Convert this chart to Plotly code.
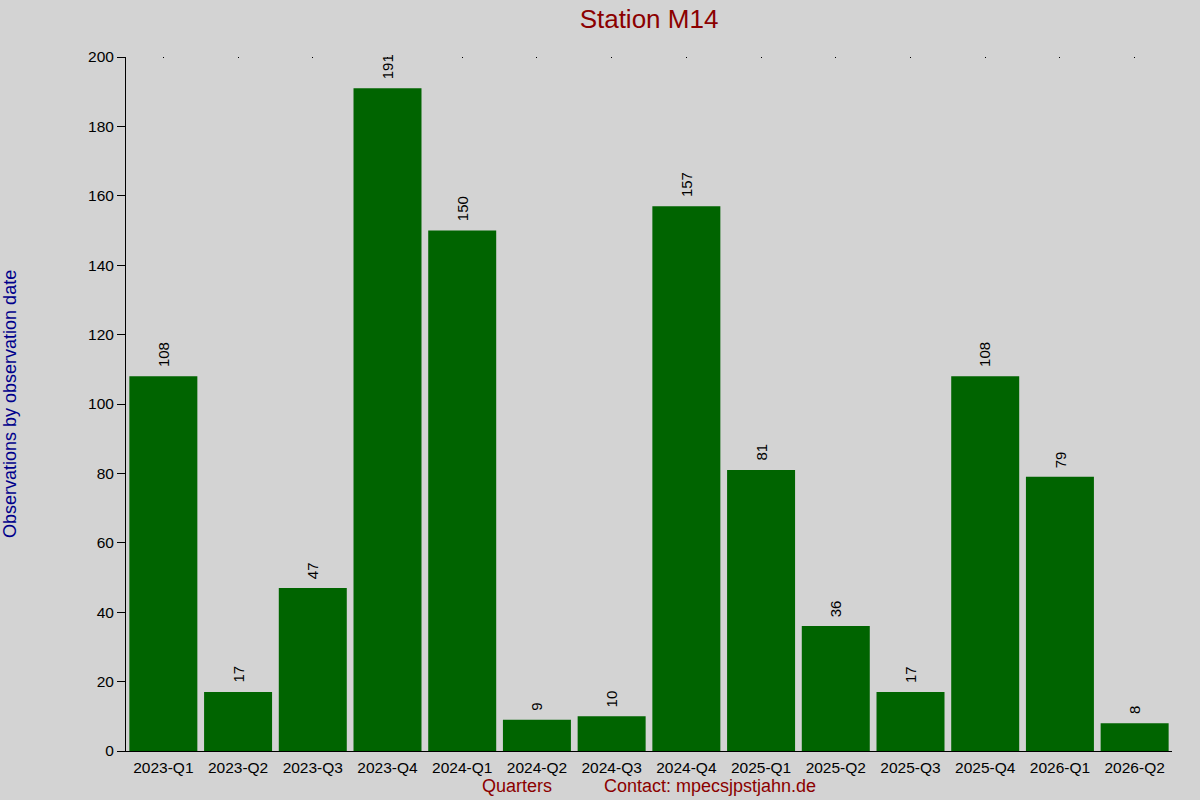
import plotly.graph_objects as go

quarters = ["2023-Q1", "2023-Q2", "2023-Q3", "2023-Q4", "2024-Q1", "2024-Q2", "2024-Q3",
            "2024-Q4", "2025-Q1", "2025-Q2", "2025-Q3", "2025-Q4", "2026-Q1", "2026-Q2"]
observations = [108, 17, 47, 191, 150, 9, 10, 157, 81, 36, 17, 108, 79, 8]
y_ticks = [0, 20, 40, 60, 80, 100, 120, 140, 160, 180, 200]

FONT = "Liberation Sans, Arial, sans-serif"
BG = "#D3D3D3"

fig = go.Figure()
fig.add_trace(go.Bar(
    x=quarters, y=observations,
    marker=dict(color="#006400", line=dict(width=0)),
    width=0.91,
    hoverinfo="x+y",
))
# invisible trace for top mirrored dot ticks
fig.add_trace(go.Scatter(
    x=quarters, y=observations, xaxis="x2", mode="markers",
    marker=dict(opacity=0), hoverinfo="skip", showlegend=False,
))

annotations = [
    dict(text=str(v), x=q, y=v, xref="x", yref="y",
         xanchor="center", yanchor="bottom", yshift=7, textangle=-90,
         showarrow=False, font=dict(family=FONT, size=15, color="black"))
    for q, v in zip(quarters, observations)
]
annotations += [
    dict(text="Observations by observation date", xref="paper", yref="paper",
         x=(10 - 126) / 1046, y=0.5, xanchor="center", yanchor="middle",
         textangle=-90, showarrow=False,
         font=dict(family=FONT, size=18, color="#00008B")),
    dict(text="Quarters", xref="paper", yref="paper",
         x=(517 - 126) / 1046, y=-(786 - 751) / 694, xanchor="center", yanchor="middle",
         showarrow=False, font=dict(family=FONT, size=18, color="#8B0000")),
    dict(text="Contact: mpecsjpstjahn.de", xref="paper", yref="paper",
         x=(710 - 126) / 1046, y=-(786 - 751) / 694, xanchor="center", yanchor="middle",
         showarrow=False, font=dict(family=FONT, size=18, color="#8B0000")),
]

fig.update_layout(
    width=1200, height=800,
    paper_bgcolor=BG, plot_bgcolor=BG,
    margin=dict(l=126, r=28, t=57, b=49),
    showlegend=False,
    title=dict(text="Station M14", x=(126 + 1172) / 2 / 1200, xanchor="center",
               y=1 - 19 / 800, yanchor="middle",
               font=dict(family=FONT, size=26, color="#8B0000")),
    xaxis=dict(
        type="category", range=[-0.5, 13.5],
        showline=True, linecolor="black", linewidth=1,
        ticks="", showgrid=False, zeroline=False,
        tickfont=dict(family=FONT, size=15.5, color="black"),
        ticklabelstandoff=2,
    ),
    xaxis2=dict(
        type="category", overlaying="x", side="top", anchor="y", matches="x",
        range=[-0.5, 13.5],
        showline=False, showgrid=False, zeroline=False, showticklabels=False,
        ticks="inside", ticklen=1, tickwidth=1, tickcolor="black",
    ),
    yaxis=dict(
        range=[0, 200], tickvals=y_ticks,
        showline=True, linecolor="black", linewidth=1,
        ticks="outside", ticklen=8, tickwidth=1, tickcolor="black",
        showgrid=False, zeroline=False,
        tickfont=dict(family=FONT, size=15.5, color="black"),
    ),
    annotations=annotations,
)

fig.write_html("out.html", config={"displayModeBar": False},
               post_script="document.body.style.margin='0';document.body.style.background='#D3D3D3';")
